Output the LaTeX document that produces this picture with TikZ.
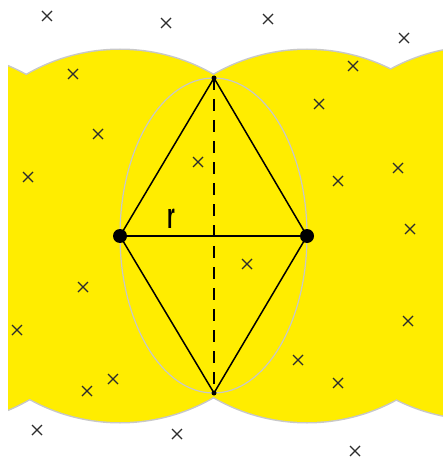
\documentclass[tikz,border=0pt]{standalone}
\usepackage{fontspec}
\setsansfont{Liberation Sans}
\usepackage{tikz}

\definecolor{amarillo}{RGB}{255,237,0}
\definecolor{grisclaro}{RGB}{200,200,200}
\definecolor{griscruz}{RGB}{45,45,45}

\tikzset{
  punto/.style={circle,fill=black,inner sep=0pt,minimum size=14pt},
  puntito/.style={circle,fill=black,inner sep=0pt,minimum size=5pt},
  cruz/.style={griscruz,line width=1.3pt},
  lado/.style={black,line width=1.5pt},
}

\begin{document}
\begin{tikzpicture}[x=1pt,y=1pt]
\useasboundingbox (0,0) rectangle (443,-457);
% Radio de los discos
\def\rad{186}

% Discos amarillos (union con borde gris)
\begin{scope}
\clip (8,-457) rectangle (443,0);
\foreach \cx/\cy in {-64/-238,120/-236,307/-236,480/-233}
  \draw[grisclaro,line width=3pt] (\cx,\cy) circle[radius=\rad];
\foreach \cx/\cy in {-64/-238,120/-236,307/-236,480/-233}
  \fill[amarillo] (\cx,\cy) circle[radius=\rad];
\end{scope}

% Elipse gris
\draw[grisclaro,line width=1.2pt] (213.5,-235.5) ellipse[x radius=93.5,y radius=157.5];

% Puntos
\node[punto] (P) at (120,-236) {};
\node[punto] (Q) at (307,-236) {};
\node[puntito] (T) at (214,-78) {};
\node[puntito] (B) at (214,-393) {};

% Rombo
\draw[lado] (P.center) -- (T.center) -- (Q.center) -- (B.center) -- cycle;
\draw[lado] (P.center) -- (Q.center);
\draw[lado,dash pattern=on 12pt off 9pt] (T.center) -- (B.center);

% Etiqueta
\node[anchor=base,inner sep=0pt,xscale=0.55,font=\sffamily\bfseries\fontsize{36}{36}\selectfont] (lr) at (171,-228) {r};

% Cruces
\foreach \x/\y in {47/16,166/23,268/19,404/38,73/74,353/66,98/134,319/104,
                   198/162,28/177,398/168,338/181,410/229,247/264,83/287,17/330,
                   408/321,298/360,113/379,87/391,338/383,37/430,177/434,355/451} {
  \draw[cruz] ({\x-5},{-\y-5}) -- ({\x+5},{-\y+5});
  \draw[cruz] ({\x-5},{-\y+5}) -- ({\x+5},{-\y-5});
}
\end{tikzpicture}
\end{document}
